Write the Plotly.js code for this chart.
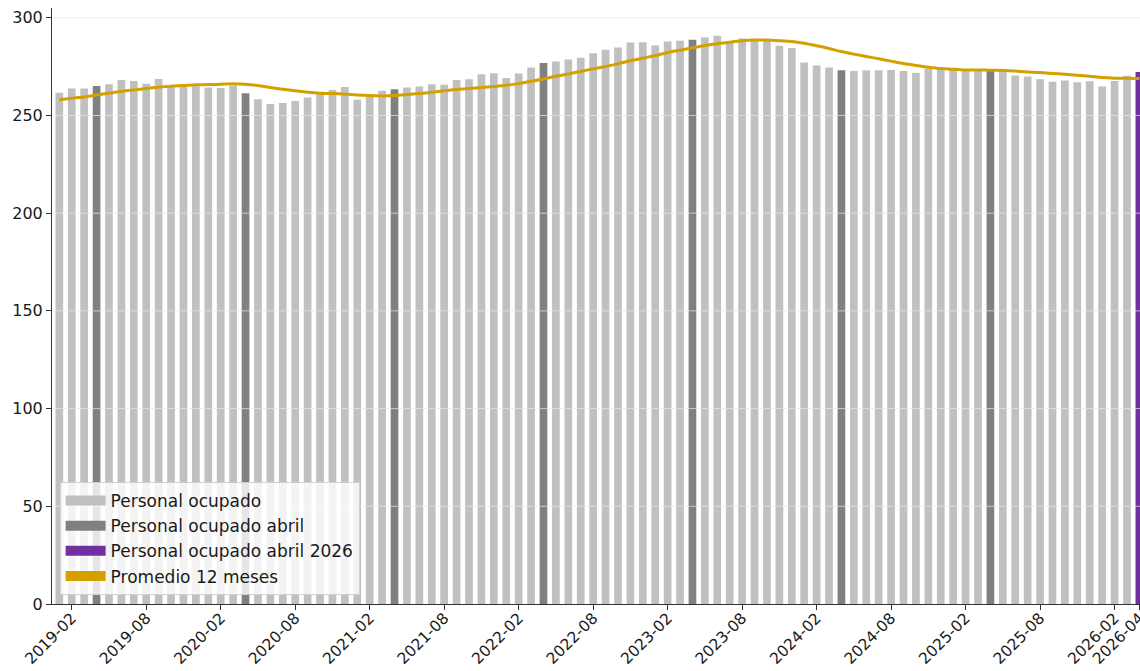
<!DOCTYPE html>
<html>
<head>
<meta charset="utf-8">
<script src="https://cdn.plot.ly/plotly-3.0.1.min.js"></script>
<style>html,body{margin:0;padding:0;background:#fff;}#chart{width:1140px;height:671px;}</style>
</head>
<body>
<div id="chart"></div>
<script>
// Months (categories)
const months = [
  "2019-01","2019-02","2019-03","2019-04","2019-05","2019-06","2019-07","2019-08","2019-09","2019-10","2019-11","2019-12",
  "2020-01","2020-02","2020-03","2020-04","2020-05","2020-06","2020-07","2020-08","2020-09","2020-10","2020-11","2020-12",
  "2021-01","2021-02","2021-03","2021-04","2021-05","2021-06","2021-07","2021-08","2021-09","2021-10","2021-11","2021-12",
  "2022-01","2022-02","2022-03","2022-04","2022-05","2022-06","2022-07","2022-08","2022-09","2022-10","2022-11","2022-12",
  "2023-01","2023-02","2023-03","2023-04","2023-05","2023-06","2023-07","2023-08","2023-09","2023-10","2023-11","2023-12",
  "2024-01","2024-02","2024-03","2024-04","2024-05","2024-06","2024-07","2024-08","2024-09","2024-10","2024-11","2024-12",
  "2025-01","2025-02","2025-03","2025-04","2025-05","2025-06","2025-07","2025-08","2025-09","2025-10","2025-11","2025-12",
  "2026-01","2026-02","2026-03","2026-04"
];

// Personal ocupado (monthly)
const personalOcupado = [
  261.6, 263.8, 263.8, 265.1, 266.0, 268.2, 267.7, 266.2, 268.7, 265.3, 265.0, 265.0,
  264.3, 264.1, 265.3, 261.4, 258.3, 255.9, 256.4, 257.4, 259.2, 261.0, 263.1, 264.6,
  258.1, 260.0, 262.6, 263.4, 264.3, 264.8, 266.0, 265.7, 268.2, 268.6, 271.1, 271.6,
  269.2, 271.5, 274.5, 276.9, 277.6, 278.6, 279.5, 281.9, 283.6, 284.8, 287.4, 287.5,
  285.8, 287.9, 288.2, 288.7, 289.9, 290.8, 288.0, 289.4, 289.2, 288.2, 285.7, 284.5,
  277.1, 275.6, 274.5, 273.2, 272.7, 273.2, 273.2, 273.3, 272.8, 271.8, 273.9, 273.9,
  273.5, 273.3, 273.0, 272.8, 272.7, 270.4, 269.9, 268.6, 267.2, 267.9, 267.0, 267.5,
  264.8, 267.7, 270.3, 272.2
];

// Promedio 12 meses
const promedio12 = [
  258.0, 258.8, 259.5, 260.5, 261.4, 262.4, 263.1, 263.8, 264.5, 265.0, 265.3, 265.7,
  265.8, 266.0, 266.2, 266.0, 265.3, 264.3, 263.4, 262.6, 261.9, 261.4, 261.2, 260.9,
  260.5, 260.2, 260.0, 260.2, 260.7, 261.2, 261.9, 262.6, 263.3, 263.8, 264.3, 264.8,
  265.5, 266.3, 267.5, 268.7, 270.1, 271.3, 272.5, 273.9, 275.1, 276.4, 278.0, 279.3,
  280.7, 282.2, 283.4, 284.6, 285.8, 286.7, 287.5, 288.2, 288.6, 288.6, 288.3, 287.9,
  287.0, 285.7, 284.3, 282.7, 281.4, 280.2, 279.0, 277.8, 276.6, 275.6, 274.7, 274.0,
  273.7, 273.3, 273.3, 273.2, 273.0, 272.7, 272.3, 272.0, 271.5, 271.1, 270.6, 270.1,
  269.4, 269.1, 269.1, 268.9
];

const aprilMonths = ["2019-04","2020-04","2021-04","2022-04","2023-04","2024-04","2025-04"];
const currentMonth = "2026-04";

const xTickVals = ["2019-02","2019-08","2020-02","2020-08","2021-02","2021-08","2022-02","2022-08",
  "2023-02","2023-08","2024-02","2024-08","2025-02","2025-08","2026-02","2026-04"];
const yTickVals = [0, 50, 100, 150, 200, 250, 300];

const names = ["Personal ocupado", "Personal ocupado abril", "Personal ocupado abril 2026", "Promedio 12 meses"];
const colors = {light: "#c0c0c0", dark: "#808080", purple: "#7030a0", gold: "#d4a000"};

// split bars into groups
const g = {light: {x: [], y: []}, dark: {x: [], y: []}, purple: {x: [], y: []}};
months.forEach((m, i) => {
  const k = (m === currentMonth) ? "purple" : (aprilMonths.includes(m) ? "dark" : "light");
  g[k].x.push(m); g[k].y.push(personalOcupado[i]);
});

const traces = [
  {type: "bar", name: names[0], x: g.light.x, y: g.light.y, marker: {color: colors.light}, showlegend: false},
  {type: "bar", name: names[1], x: g.dark.x, y: g.dark.y, marker: {color: colors.dark}, showlegend: false},
  {type: "bar", name: names[2], x: g.purple.x, y: g.purple.y, marker: {color: colors.purple}, showlegend: false},
  {type: "scatter", mode: "lines", name: names[3], x: months, y: promedio12, showlegend: false,
   line: {color: colors.gold, width: 3, shape: "spline", smoothing: 0.6}}
];
// legend patches (wide rectangles, matplotlib style)
[colors.light, colors.dark, colors.purple, colors.gold].forEach((c, i) => {
  traces.push({type: "scatter", mode: "lines", name: names[i], x: [null], y: [null],
    line: {color: c, width: 16}, hoverinfo: "skip"});
});

const shapes = yTickVals.filter(v => v > 0).map(v => ({
  type: "line", xref: "paper", x0: 0, x1: 1, yref: "y", y0: v, y1: v,
  line: {color: "rgba(232,232,232,0.7)", width: 1}, layer: "above"
}));

const layout = {
  width: 1140, height: 671,
  margin: {l: 52, r: 0, t: 8, b: 67},
  paper_bgcolor: "#ffffff", plot_bgcolor: "#ffffff",
  font: {family: "DejaVu Sans, sans-serif", size: 16, color: "#1a1a1a"},
  barmode: "overlay", bargap: 0.38,
  showlegend: true,
  legend: {
    x: 0.007, y: 0.015, xanchor: "left", yanchor: "bottom",
    bgcolor: "rgba(255,255,255,0.8)", bordercolor: "#d0d0d0", borderwidth: 1,
    font: {family: "DejaVu Sans, sans-serif", size: 17, color: "#1a1a1a"},
    traceorder: "normal", tracegroupgap: 0, itemwidth: 40
  },
  xaxis: {
    type: "category", categoryorder: "array", categoryarray: months,
    range: [-0.59, 87.05],
    tickmode: "array", tickvals: xTickVals, ticktext: xTickVals,
    tickangle: -45, ticks: "outside", ticklen: 5, tickcolor: "#333",
    ticklabelstandoff: -7,
    showgrid: false, showline: true, linecolor: "#333", linewidth: 1,
    zeroline: false, tickfont: {size: 15.5}
  },
  yaxis: {
    range: [0, 305], tickmode: "array", tickvals: yTickVals,
    ticks: "outside", ticklen: 5, tickcolor: "#333",
    showgrid: false, showline: true, linecolor: "#333", linewidth: 1,
    zeroline: false, tickfont: {size: 16}
  },
  shapes: shapes
};

Plotly.newPlot("chart", traces, layout, {displayModeBar: false, responsive: false});
</script>
</body>
</html>
